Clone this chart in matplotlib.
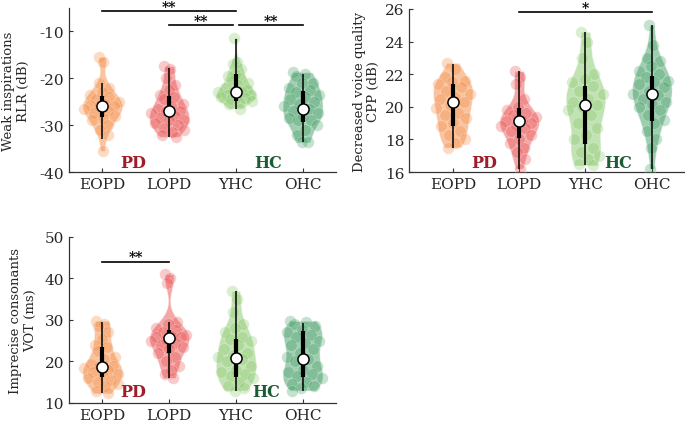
import numpy as np
import matplotlib
matplotlib.use("Agg")
import matplotlib.pyplot as plt
from matplotlib import mlab

plt.rcParams['font.family'] = ['DejaVu Serif']
plt.rcParams['axes.unicode_minus'] = False

groups = ['EOPD', 'LOPD', 'YHC', 'OHC']
colors = ['#F5883E', '#E9504F', '#85C766', '#3F9C63']

# weak inspirations, RLR (dB)
rlr = [
    [-15.5, -16.5, -21, -22, -23, -23.5, -24, -24.5, -25, -25.5, -25.8, -26, -26, -26.5,
     -27, -27.5, -28, -28.5, -29, -30, -31, -32, -35.5],
    [-17.4, -18, -20, -21.5, -22.5, -23.5, -24, -24.5, -25.5, -26, -26.5, -27, -27, -27.5,
     -28, -28.5, -29, -29, -29.5, -30, -30.5, -31, -31.5, -32, -32.5],
    [-11.3, -16.5, -17, -18, -19, -19.5, -20, -20.5, -21, -21.5, -22, -22.5, -22.8, -23,
     -23, -23.5, -23.5, -24, -24, -24.3, -24.5, -24.8, -25, -25.5, -26.5],
    [-18.7, -19, -19.5, -21, -21, -22, -22.5, -23, -23.5, -24, -24.5, -25, -25.5, -26,
     -26.5, -27, -27.5, -28, -28.5, -29, -29, -30, -31, -32, -33.5, -33.7],
]
rlr_med = [-26, -27, -23, -26.5]
rlr_q = [(-28.3, -23.8), (-28.3, -23.8), (-24.9, -19.1), (-29.4, -22.8)]
rlr_wh = [(-33, -21), (-32.5, -17.9), (-26.6, -11.7), (-33.7, -19)]

# decreased voice quality, CPP (dB)
cpp = [
    [22.7, 22.3, 21.8, 21.6, 21.5, 21.4, 21.2, 21.0, 20.8, 20.6, 20.5, 20.3, 20.1, 19.9,
     19.6, 19.5, 19.3, 19.0, 18.8, 18.5, 18.3, 18.0, 17.8, 17.5],
    [22.2, 21.8, 21.4, 20.5, 20.0, 19.8, 19.6, 19.5, 19.4, 19.2, 19.1, 19.0, 18.9, 18.8,
     18.7, 18.5, 18.3, 18.0, 17.8, 17.5, 17.2, 16.8, 16.2],
    [24.6, 24.0, 23.0, 22.0, 21.7, 21.5, 21.3, 21.0, 20.8, 20.5, 20.3, 20.1, 20.0, 19.8,
     19.5, 19.0, 18.7, 18.3, 18.0, 17.5, 17.2, 17.0, 16.8, 16.5, 16.4],
    [25.0, 23.8, 23.0, 22.8, 22.5, 22.2, 22.0, 21.8, 21.6, 21.5, 21.4, 21.2, 21.0, 20.8,
     20.7, 20.5, 20.3, 20.2, 20.0, 19.8, 19.5, 19.2, 19.0, 18.5, 18.0, 17.5, 16.2],
]
cpp_med = [20.3, 19.1, 20.1, 20.8]
cpp_q = [(18.8, 21.4), (18.1, 19.9), (17.7, 21.3), (19.1, 21.9)]
cpp_wh = [(17.5, 22.6), (16.2, 22.2), (16.4, 24.6), (16.2, 25.0)]

# imprecise consonants, VOT (ms)
vot = [
    [29.8, 29.0, 28.5, 27.0, 25.5, 24.0, 23.5, 22.5, 21.0, 20.5, 19.5, 19.0, 18.8, 18.5,
     18.0, 17.5, 17.0, 16.5, 16.0, 15.5, 15.0, 14.5, 14.0, 13.0, 12.3],
    [41.0, 40.0, 39.0, 29.5, 29.0, 28.0, 27.5, 27.0, 26.5, 26.2, 26.0, 25.8, 25.5, 25.0,
     24.5, 24.0, 23.5, 23.0, 22.0, 21.0, 20.0, 19.0, 18.0, 17.0, 16.0],
    [37.0, 35.0, 32.0, 29.0, 28.0, 27.0, 26.0, 25.5, 25.0, 24.0, 23.0, 22.0, 21.5, 21.0,
     20.5, 20.0, 19.0, 18.0, 17.5, 17.0, 16.5, 16.0, 15.0, 14.0, 13.5, 13.0],
    [29.8, 29.5, 29.0, 28.5, 27.5, 27.0, 26.5, 26.0, 25.0, 24.5, 24.0, 23.0, 22.0, 21.0,
     20.6, 20.0, 19.0, 18.0, 17.5, 17.0, 16.5, 16.0, 15.0, 14.5, 14.0, 13.5, 13.0],
]
vot_med = [18.75, 25.6, 20.9, 20.6]
vot_q = [(16.3, 23.5), (22.0, 27.5), (16.3, 25.4), (16.3, 27.4)]
vot_wh = [(12.5, 29.5), (16.0, 29.5), (12.8, 37.0), (13.0, 29.3)]

pos = np.arange(1, 5)
W = 0.6
BW = 0.4


def violins(ax, data, med, q, wh):
    parts = ax.violinplot(data, positions=pos, widths=W, showextrema=False,
                          bw_method=BW)
    for body, c in zip(parts['bodies'], colors):
        body.set_facecolor(c)
        body.set_edgecolor('white')
        body.set_linewidth(0.8)
        body.set_alpha(0.5)
    for i, d in enumerate(data):
        d = np.asarray(d, float)
        kde = mlab.GaussianKDE(d, BW)
        grid = np.linspace(d.min(), d.max(), 100)
        dens = kde.evaluate(d) / kde.evaluate(grid).max()
        jit = ((np.arange(len(d)) * 0.618034) % 1) * 2 - 1
        ax.scatter(pos[i] + jit * dens * W / 2, d, s=70, color=colors[i],
                   alpha=0.3, edgecolors='white', linewidths=0.5, zorder=3)
        ax.plot([pos[i]] * 2, wh[i], color='black', lw=1.1, zorder=4,
                solid_capstyle='butt')
        ax.plot([pos[i]] * 2, q[i], color='black', lw=3, zorder=4,
                solid_capstyle='butt')
        ax.plot(pos[i], med[i], 'o', ms=8, mfc='white', mec='black', mew=1.1,
                zorder=5)


def style(ax, ylim, yticks, ylabel, labx):
    ax.set_xlim(0.5, 4.5)
    ax.set_ylim(*ylim)
    ax.set_yticks(yticks)
    ax.set_xticks(pos)
    ax.set_xticklabels(groups)
    for s in ['top', 'right']:
        ax.spines[s].set_visible(False)
    for s in ['left', 'bottom']:
        ax.spines[s].set_color('#333333')
        ax.spines[s].set_linewidth(0.9)
    ax.tick_params(direction='in', length=3, labelsize=11, colors='#333333',
                   labelcolor='#262626')
    ax.set_ylabel(ylabel, fontsize=9.5, color='#262626', linespacing=1.15)
    ax.yaxis.set_label_coords(labx, 0.5)


def groups_text(ax, xp, yv, xh):
    ax.text(xp, yv, 'PD', color='#A01C28', fontsize=11.5, fontweight='bold',
            ha='center', va='center')
    ax.text(xh, yv, 'HC', color='#1B5C34', fontsize=11.5, fontweight='bold',
            ha='center', va='center')


def sig(ax, x1, x2, y, label):
    ax.plot([x1, x2], [y, y], color='black', lw=1.2, clip_on=False)
    ax.annotate(label, xy=((x1 + x2) / 2, y), xytext=(0, 0.2),
                textcoords='offset points', ha='center', va='baseline',
                fontsize=10, fontweight='bold', annotation_clip=False)


fig = plt.figure(figsize=(6.85, 4.27), dpi=100)
ax1 = fig.add_axes([0.1007, 0.5948, 0.3898, 0.3841])
ax2 = fig.add_axes([0.5971, 0.5948, 0.4029, 0.3818])
ax3 = fig.add_axes([0.1007, 0.0539, 0.3898, 0.3888])

violins(ax1, rlr, rlr_med, rlr_q, rlr_wh)
style(ax1, (-40, -5), [-40, -30, -20, -10], 'Weak inspirations\nRLR (dB)', -0.146)
groups_text(ax1, 1.46, -38, 3.49)
sig(ax1, 1, 3, -5.6, '**')
sig(ax1, 2, 2.96, -8.6, '**')
sig(ax1, 3.04, 4, -8.6, '**')

violins(ax2, cpp, cpp_med, cpp_q, cpp_wh)
style(ax2, (16, 26), [16, 18, 20, 22, 24, 26], 'Decreased voice quality\nCPP (dB)',
      -0.105)
ax2.set_xlim(0.34, 4.5)
groups_text(ax2, 1.47, 16.6, 3.5)
sig(ax2, 2, 4, 25.8, '*')

violins(ax3, vot, vot_med, vot_q, vot_wh)
style(ax3, (10, 50), [10, 20, 30, 40, 50], 'Imprecise consonants\nVOT (ms)', -0.12)
groups_text(ax3, 1.46, 12.65, 3.46)
sig(ax3, 1, 2, 44.05, '**')

fig.savefig('out.png', dpi=100)
